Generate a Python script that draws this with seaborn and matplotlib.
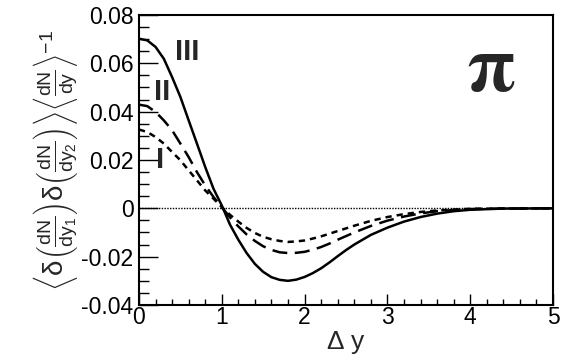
import numpy as np
import pandas as pd
import matplotlib
matplotlib.use('Agg')
import matplotlib.pyplot as plt
from matplotlib.ticker import MultipleLocator, FuncFormatter
import seaborn as sns

# values
dy = [0.0, 0.1, 0.2, 0.3, 0.4, 0.5, 0.6, 0.7, 0.8, 0.9, 1.0,
      1.1, 1.2, 1.3, 1.4, 1.5, 1.6, 1.7, 1.8, 1.9, 2.0, 2.1, 2.2, 2.3, 2.4, 2.5,
      2.6, 2.8, 3.0, 3.2, 3.4, 3.6, 3.8, 4.0, 4.4, 5.0]
curve_I = [0.0326, 0.0316, 0.0295, 0.0268, 0.0233, 0.0199, 0.0157, 0.0116, 0.0074, 0.0040, 0.0005,
           -0.0027, -0.0055, -0.0081, -0.0102, -0.0118, -0.0128, -0.0135, -0.0139, -0.0137,
           -0.0133, -0.0125, -0.0116, -0.0105, -0.0094, -0.0083,
           -0.0072, -0.0052, -0.0036, -0.0024, -0.0015, -0.0009, -0.0005, -0.0002, -0.0001, 0.0]
curve_II = [0.0429, 0.0423, 0.0399, 0.0364, 0.0323, 0.0268, 0.0212, 0.0150, 0.0095, 0.0047, 0.0005,
            -0.0038, -0.0075, -0.0108, -0.0135, -0.0157, -0.0172, -0.0182, -0.0185, -0.0184,
            -0.0180, -0.0171, -0.0160, -0.0146, -0.0130, -0.0115,
            -0.0100, -0.0073, -0.0051, -0.0034, -0.0021, -0.0012, -0.0007, -0.0003, -0.0001, 0.0]
curve_III = [0.0702, 0.0695, 0.0668, 0.0619, 0.0543, 0.0461, 0.0364, 0.0268, 0.0171, 0.0081, 0.0012,
             -0.0068, -0.0130, -0.0185, -0.0230, -0.0263, -0.0285, -0.0296, -0.0300, -0.0295,
             -0.0284, -0.0268, -0.0248, -0.0224, -0.0198, -0.0173,
             -0.0150, -0.0110, -0.0080, -0.0055, -0.0036, -0.0022, -0.0012, -0.0006, -0.0001, 0.0]

sns.set_style('ticks')
plt.rcParams['font.family'] = ['Liberation Sans', 'DejaVu Sans']
plt.rcParams['mathtext.fontset'] = 'custom'
plt.rcParams['mathtext.rm'] = 'Liberation Sans'
plt.rcParams['mathtext.it'] = 'Liberation Sans'

fig = plt.figure(figsize=(5.81, 3.64), dpi=100)
ax = fig.add_axes([0.2392, 0.1621, 0.7126, 0.7967])

ax.axhline(0, color='black', lw=1.0, ls=(0, (1, 1)))
sns.lineplot(x=dy, y=curve_III, ax=ax, color='black', lw=1.8)
sns.lineplot(x=dy, y=curve_II, ax=ax, color='black', lw=1.8, ls=(0, (6, 3)))
sns.lineplot(x=dy, y=curve_I, ax=ax, color='black', lw=1.8, ls=(0, (2.5, 2)))

ax.set_xlim(0, 5)
ax.set_ylim(-0.04, 0.08)
ax.xaxis.set_major_locator(MultipleLocator(1))
ax.xaxis.set_minor_locator(MultipleLocator(0.2))
ax.yaxis.set_major_locator(MultipleLocator(0.02))
ax.yaxis.set_minor_locator(MultipleLocator(0.005))
ax.yaxis.set_major_formatter(FuncFormatter(lambda v, p: '0' if abs(v) < 1e-9 else f'{v:.2f}'))

ax.tick_params(axis='both', which='both', direction='in', colors='black', labelsize=16.5)
ax.tick_params(axis='y', which='major', length=14, width=1, pad=4)
ax.tick_params(axis='y', which='minor', length=7, width=1)
ax.tick_params(axis='x', which='major', length=8, width=1, pad=1)
ax.tick_params(axis='x', which='minor', length=4, width=1)
for s in ax.spines.values():
    s.set_linewidth(1.5)
    s.set_color('black')

ax.set_xlabel(r'$\Delta$ y', fontsize=19, labelpad=0)
ax.set_ylabel(r'$\left\langle\delta\left(\frac{dN}{dy_1}\right)\delta\left(\frac{dN}{dy_2}\right)\right\rangle'
              r'\left\langle\frac{dN}{dy}\right\rangle^{-1}$', fontsize=20, labelpad=1)

ax.text(0.58, 0.0647, 'III', fontsize=21, fontweight='bold', ha='center', va='center')
ax.text(0.28, 0.0481, 'II', fontsize=21, fontweight='bold', ha='center', va='center')
ax.text(0.25, 0.0200, 'I', fontsize=21, fontweight='bold', ha='center', va='center')
ax.text(4.25, 0.0564, 'π', fontsize=56, fontweight='bold', ha='center', va='center',
        family=['STIXGeneral', 'Liberation Serif', 'DejaVu Serif'])

fig.savefig('out.png', dpi=100)
